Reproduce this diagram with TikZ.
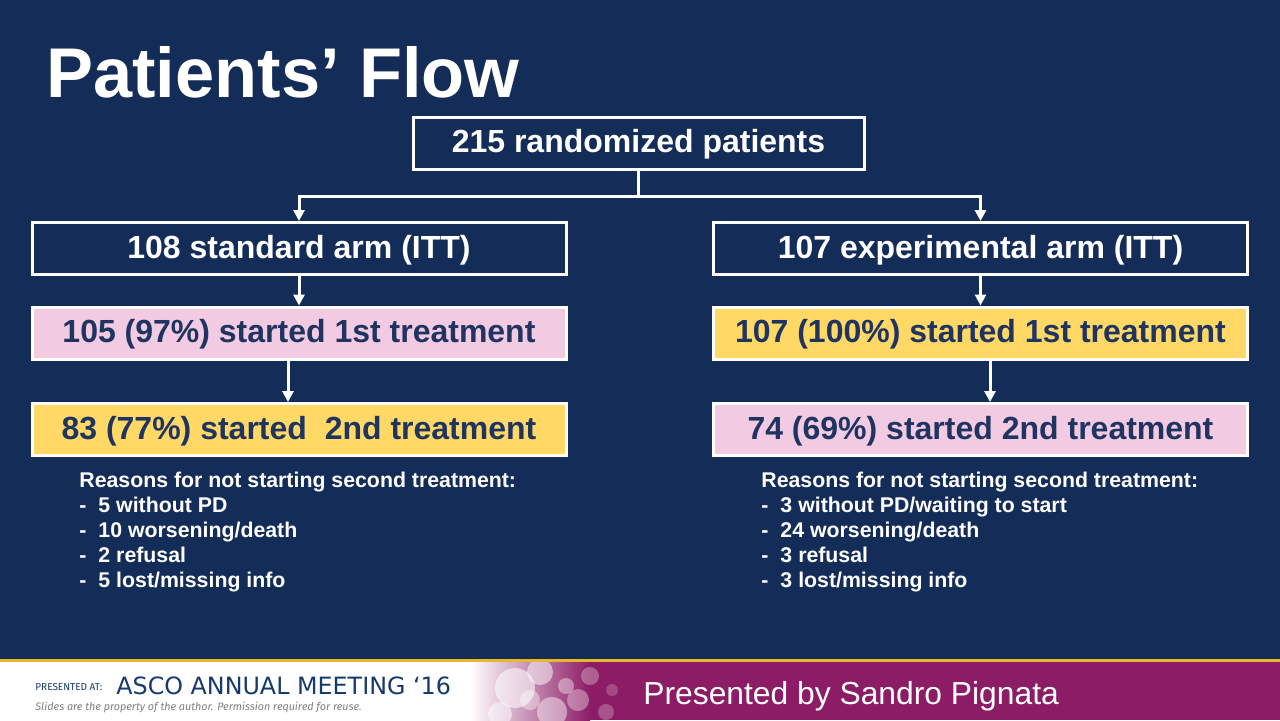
\documentclass[tikz,border=0pt]{standalone}
\usepackage{fontspec}
\setmainfont{Liberation Sans}
\newfontfamily\ascofont{Fira Sans}
\newfontfamily\meetfont{DejaVu Sans}
\usetikzlibrary{arrows.meta,positioning}

\definecolor{slidebg}{RGB}{20,45,88}
\definecolor{boxpink}{RGB}{242,202,226}
\definecolor{boxyellow}{RGB}{255,216,102}
\definecolor{boxtext}{RGB}{31,52,96}
\definecolor{footmag}{RGB}{140,28,102}
\definecolor{footgold}{RGB}{232,184,40}
\definecolor{asconavy}{RGB}{22,58,110}

\begin{document}
\begin{tikzpicture}[x=0.5pt,y=-0.5pt,
  box/.style={draw=white, line width=1.5pt, minimum width=267pt, minimum height=26pt, inner sep=0pt, text height=11pt, text depth=1.5pt, font=\bfseries\fontsize{16}{18}\selectfont},
  armbox/.style={box, fill=slidebg, text=white},
  pinkbox/.style={box, fill=boxpink, text=boxtext},
  yellowbox/.style={box, fill=boxyellow, text=boxtext},
  line/.style={draw=white, line width=1.5pt},
  arr/.style={line, -{Triangle[width=5.5pt,length=5.5pt]}},
  reasons/.style={text=white, font=\bfseries\fontsize{10.65}{12.5}\selectfont, align=left, anchor=north west, inner sep=0pt}
]
\useasboundingbox (0,0) rectangle (1280,720);
\fill[slidebg] (0,0) rectangle (1280,720);

% title
\node[anchor=base west, inner sep=0pt, text=white, font=\bfseries\fontsize{35.2}{40}\selectfont] (title) at (46,97) {Patients’ Flow};

% boxes
\node[armbox, minimum width=225.5pt] (rand) at (638.5,143) {215 randomized patients};
\node[armbox] (ittstd) at (299,248.5) {108 standard arm (ITT)};
\node[armbox] (ittexp) at (980.5,248.5) {107 experimental arm (ITT)};
\node[pinkbox] (firststd) at (299,333) {105 (97\%) started 1st treatment};
\node[yellowbox] (firstexp) at (980.5,333) {107 (100\%) started 1st treatment};
\node[yellowbox] (secondstd) at (299,429.5) {83 (77\%) started \ 2nd treatment};
\node[pinkbox] (secondexp) at (980.5,429.5) {74 (69\%) started 2nd treatment};

% connectors
\draw[line] (rand.south) -- ++(0,26) coordinate (split);
\draw[arr] (split) -| (ittstd.north);
\draw[arr] (split) -| (ittexp.north);
\draw[arr] (ittstd) -- (firststd);
\draw[arr] (ittexp) -- (firstexp);
\draw[arr] ([xshift=-5.5pt]firststd.south) -- ([xshift=-5.5pt]secondstd.north);
\draw[arr] ([xshift=4.75pt]firstexp.south) -- ([xshift=4.75pt]secondexp.north);

% reasons
\node[reasons] (whystd) at (79,472) {Reasons for not starting second treatment:\\
-\hspace{6pt}5 without PD\\
-\hspace{6pt}10 worsening/death\\
-\hspace{6pt}2 refusal\\
-\hspace{6pt}5 lost/missing info};
\node[reasons] (whyexp) at (761,472) {Reasons for not starting second treatment:\\
-\hspace{6pt}3 without PD/waiting to start\\
-\hspace{6pt}24 worsening/death\\
-\hspace{6pt}3 refusal\\
-\hspace{6pt}3 lost/missing info};

% footer
\fill[white] (0,660) rectangle (1280,720);
\shade[left color=white, right color=footmag] (470,660) rectangle (590,720);
\fill[footmag] (590,660) rectangle (1280,720);
\foreach \cx/\cy/\r/\o in {515/688/20/0.55, 540/672/13/0.5, 552/712/15/0.45, 578/700/11/0.35, 590/676/9/0.3, 606/712/8/0.25, 500/714/12/0.5, 566/686/8/0.4, 612/690/6/0.2, 530/700/10/0.4}
  \fill[white, opacity=\o] (\cx,\cy) circle (\r);
\fill[footgold] (0,658.5) rectangle (1280,662);
\fill[slidebg] (0,655) rectangle (1280,658.5);

\node[anchor=base west, inner sep=0pt, text=asconavy, font=\ascofont\fontsize{5}{6}\selectfont] (presat) at (35,690) {PRESENTED AT:};
\node[anchor=base west, inner sep=0pt, text=asconavy, font=\meetfont\fontsize{11.9}{14}\selectfont] (asco) at (116,694) {ASCO ANNUAL MEETING ‘16};
\node[anchor=base west, inner sep=0pt, text=gray, font=\ascofont\itshape\fontsize{5.4}{6}\selectfont] (rights) at (35,710) {Slides are the property of the author. Permission required for reuse.};
\node[anchor=base west, inner sep=0pt, text=white, font=\fontsize{15.9}{18}\selectfont] (speaker) at (643,704) {Presented by Sandro Pignata};
\end{tikzpicture}
\end{document}
